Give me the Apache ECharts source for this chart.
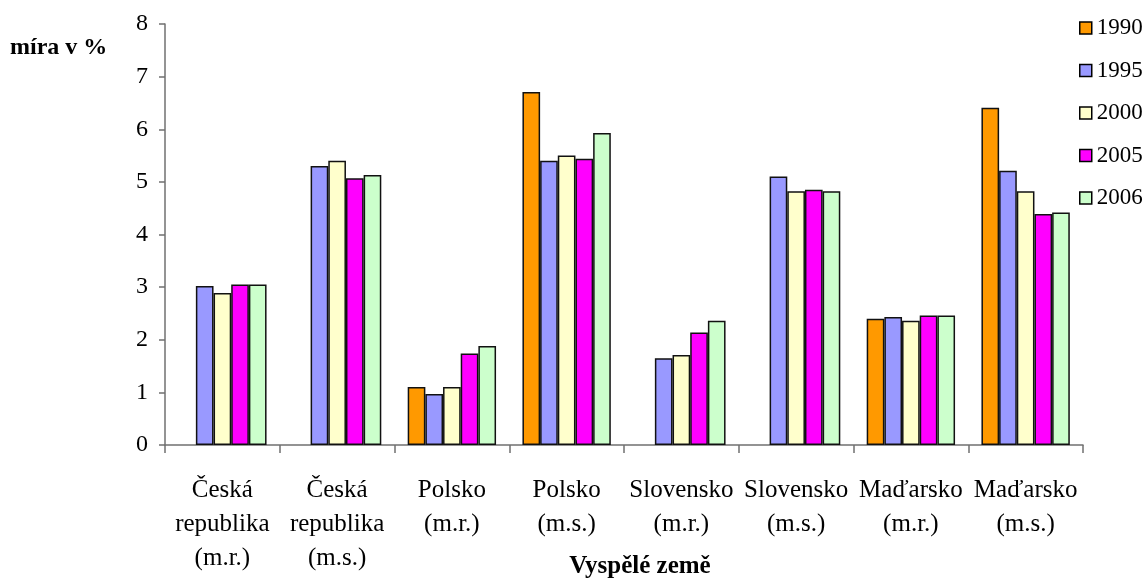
<!DOCTYPE html>
<html>
<head>
<meta charset="utf-8">
<script src="https://cdn.jsdelivr.net/npm/echarts@6/dist/echarts.min.js"></script>
<style>html,body{margin:0;padding:0;background:#fff;}#c{width:1145px;height:583px;}</style>
</head>
<body>
<div id="c"></div>
<script>
const categories = ['Česká\nrepublika\n(m.r.)','Česká\nrepublika\n(m.s.)','Polsko\n(m.r.)','Polsko\n(m.s.)','Slovensko\n(m.r.)','Slovensko\n(m.s.)','Maďarsko\n(m.r.)','Maďarsko\n(m.s.)'];
const years = ['1990','1995','2000','2005','2006'];
const v1990 = [null, null, 1.10, 6.71, null, null, 2.40, 6.41];
const v1995 = [3.02, 5.30, 0.97, 5.40, 1.65, 5.10, 2.43, 5.21];
const v2000 = [2.89, 5.40, 1.10, 5.50, 1.71, 4.82, 2.36, 4.82];
const v2005 = [3.05, 5.07, 1.74, 5.44, 2.14, 4.85, 2.46, 4.39];
const v2006 = [3.05, 5.13, 1.88, 5.93, 2.36, 4.82, 2.46, 4.42];
const yTicks = [0,1,2,3,4,5,6,7,8];
const colors = ['#FF9900','#9999FF','#FFFFCC','#FF00FF','#CCFFCC'];
const seriesData = [v1990, v1995, v2000, v2005, v2006];

const font = '"Liberation Serif","Times New Roman",serif';
const chart = echarts.init(document.getElementById('c'), null, {renderer:'canvas'});
chart.setOption({
  animation: false,
  color: colors,
  grid: {left: 165, right: 62, top: 24, bottom: 138, containLabel: false},
  legend: {
    orient: 'vertical', left: 1079, top: 16, itemGap: 18.5, itemWidth: 12, itemHeight: 12,
    icon: 'rect', padding: 0,
    textStyle: {fontFamily: font, fontSize: 23, lineHeight: 24, color: '#000'},
    itemStyle: {borderColor: '#000', borderWidth: 1.5},
    data: years
  },
  title: [
    {text: 'míra v %', left: 10, top: 36, padding: 0, textStyle: {fontFamily: font, fontSize: 24, fontWeight: 'bold', color: '#000'}},
    {text: 'Vyspělé země', left: 640, top: 554, padding: 0, textAlign: 'center', textStyle: {fontFamily: font, fontSize: 25, fontWeight: 'bold', color: '#000'}}
  ],
  xAxis: {
    type: 'category', data: categories,
    axisLine: {lineStyle: {color: '#707070', width: 1.5}},
    axisTick: {show: true, length: 8, lineStyle: {color: '#707070', width: 1.5}},
    axisLabel: {interval: 0, margin: 28, lineHeight: 34, fontFamily: font, fontSize: 25, color: '#000'},
    splitLine: {show: false}
  },
  yAxis: {
    type: 'value', min: 0, max: 8, interval: 1,
    axisLine: {show: true, lineStyle: {color: '#707070', width: 1.5}},
    axisTick: {show: true, length: 6, lineStyle: {color: '#707070', width: 1.5}},
    axisLabel: {margin: 17, fontFamily: font, fontSize: 24, color: '#000', formatter: v => yTicks.includes(v) ? String(v) : ''},
    splitLine: {show: false}
  },
  series: years.map((y, i) => ({
    name: y, type: 'bar', data: seriesData[i],
    barGap: '0%', barCategoryGap: '23%',
    itemStyle: {color: colors[i], borderColor: '#111', borderWidth: 1.5}
  }))
});
</script>
</body>
</html>
